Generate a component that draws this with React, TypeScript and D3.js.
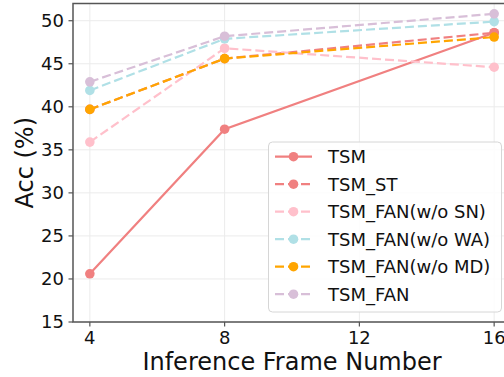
import React, { useEffect, useRef } from 'react';
import * as d3 from 'd3';

const frames = [4, 8, 16];
const seriesNames = ['TSM', 'TSM_ST', 'TSM_FAN(w/o SN)', 'TSM_FAN(w/o WA)', 'TSM_FAN(w/o MD)', 'TSM_FAN'];
const tsm = [20.6, 37.4, 48.6];
const tsmSt = [39.7, 45.6, 48.6];
const fanNoSn = [35.9, 46.8, 44.6];
const fanNoWa = [41.9, 47.9, 49.9];
const fanNoMd = [39.7, 45.6, 48.1];
const fan = [42.9, 48.2, 50.8];
const xTicks = [4, 8, 12, 16];
const yTicks = [15, 20, 25, 30, 35, 40, 45, 50];

const colors = ['#f08080', '#f08080', '#ffc0cb', '#b0e0e6', '#ffa500', '#d8bfd8'];
const dashed = [false, true, true, true, true, true];

const App: React.FC = () => {
  const svgRef = useRef<SVGSVGElement | null>(null);

  useEffect(() => {
    const svg = d3.select(svgRef.current);
    svg.selectAll('*').remove();

    const W = 504;
    const H = 377;
    const left = 73, right = 511, top = 3.5, bottom = 322;
    const font = 'DejaVu Sans, sans-serif';

    const x = d3.scaleLinear().domain([3.5, 16.5]).range([left, right]);
    const y = d3.scaleLinear().domain([15, 52]).range([bottom, top]);

    svg.attr('width', W).attr('height', H);
    svg.append('rect').attr('width', W).attr('height', H).attr('fill', '#fff');

    // grid
    const grid = svg.append('g');
    grid.selectAll('.gx').data(xTicks).enter().append('line')
      .attr('x1', (d) => x(d)).attr('x2', (d) => x(d))
      .attr('y1', top).attr('y2', bottom)
      .attr('stroke', '#ebebeb').attr('stroke-width', 1);
    grid.selectAll('.gy').data(yTicks).enter().append('line')
      .attr('x1', left).attr('x2', right)
      .attr('y1', (d) => y(d)).attr('y2', (d) => y(d))
      .attr('stroke', '#ebebeb').attr('stroke-width', 1);

    const all = [tsm, tsmSt, fanNoSn, fanNoWa, fanNoMd, fan];
    const line = d3.line<number>()
      .x((_, i) => x(frames[i]))
      .y((d) => y(d));

    all.forEach((vals, k) => {
      const g = svg.append('g');
      g.append('path')
        .datum(vals)
        .attr('fill', 'none')
        .attr('stroke', colors[k])
        .attr('stroke-width', 2.2)
        .attr('stroke-dasharray', dashed[k] ? '9,4' : null)
        .attr('d', line as any);
      g.selectAll('circle').data(vals).enter().append('circle')
        .attr('cx', (_, i) => x(frames[i]))
        .attr('cy', (d) => y(d))
        .attr('r', 4.8)
        .attr('fill', colors[k]);
    });

    // spines
    svg.append('rect')
      .attr('x', left).attr('y', top)
      .attr('width', right - left).attr('height', bottom - top)
      .attr('fill', 'none').attr('stroke', '#555').attr('stroke-width', 1.5);

    // ticks
    const ax = svg.append('g');
    xTicks.forEach((t) => {
      ax.append('line').attr('x1', x(t)).attr('x2', x(t)).attr('y1', bottom).attr('y2', bottom + 4.5)
        .attr('stroke', '#555').attr('stroke-width', 1.2);
      ax.append('text').attr('x', x(t)).attr('y', bottom + 22)
        .attr('text-anchor', 'middle').attr('font-family', font).attr('font-size', 18).attr('fill', '#111')
        .text(t);
    });
    yTicks.forEach((t) => {
      ax.append('line').attr('x1', left - 4.5).attr('x2', left).attr('y1', y(t)).attr('y2', y(t))
        .attr('stroke', '#555').attr('stroke-width', 1.2);
      ax.append('text').attr('x', left - 9).attr('y', y(t)).attr('dy', '0.36em')
        .attr('text-anchor', 'end').attr('font-family', font).attr('font-size', 18).attr('fill', '#111')
        .text(t);
    });

    svg.append('text').attr('x', (left + right) / 2).attr('y', 370)
      .attr('text-anchor', 'middle').attr('font-family', font).attr('font-size', 24).attr('fill', '#111')
      .text('Inference Frame Number');
    svg.append('text')
      .attr('transform', `translate(33, ${(top + bottom) / 2}) rotate(-90)`)
      .attr('text-anchor', 'middle').attr('font-family', font).attr('font-size', 24).attr('fill', '#111')
      .text('Acc (%)');

    // legend
    const lg = svg.append('g');
    lg.append('rect')
      .attr('x', 268.5).attr('y', 142).attr('width', 233).attr('height', 170)
      .attr('rx', 4).attr('fill', '#fff').attr('fill-opacity', 0.85)
      .attr('stroke', '#d6d6d6').attr('stroke-width', 1);
    seriesNames.forEach((name, k) => {
      const cy = 156.7 + k * 27.5;
      lg.append('line').attr('x1', 275).attr('x2', 312).attr('y1', cy).attr('y2', cy)
        .attr('stroke', colors[k]).attr('stroke-width', 2.2)
        .attr('stroke-dasharray', dashed[k] ? '9,4' : null);
      lg.append('circle').attr('cx', 293.5).attr('cy', cy).attr('r', 4.8).attr('fill', colors[k]);
      lg.append('text').attr('x', 328).attr('y', cy).attr('dy', '0.36em')
        .attr('font-family', font).attr('font-size', 18).attr('fill', '#111')
        .text(name);
    });
  }, []);

  return (
    <svg ref={svgRef} style={{ position: 'absolute', left: 0, top: 0 }} width={504} height={377}></svg>
  );
};

export default App;
